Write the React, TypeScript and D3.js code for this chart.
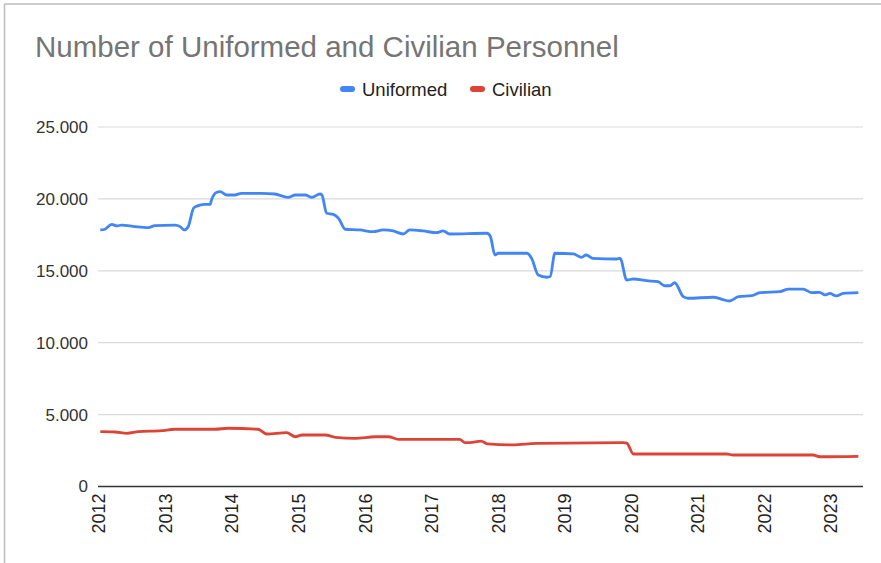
import React from "react";
import * as d3 from "d3";

const uniformedYears = [2012.02, 2012.09, 2012.19, 2012.27, 2012.34, 2012.54, 2012.74, 2012.84, 2013.14, 2013.22, 2013.28, 2013.34, 2013.42, 2013.47, 2013.59, 2013.67, 2013.69, 2013.77, 2013.82, 2013.92, 2014.04, 2014.14, 2014.44, 2014.64, 2014.84, 2014.95, 2015.1, 2015.2, 2015.32, 2015.35, 2015.42, 2015.52, 2015.6, 2015.7, 2015.92, 2016.12, 2016.27, 2016.42, 2016.57, 2016.67, 2016.87, 2017.07, 2017.17, 2017.27, 2017.83, 2017.88, 2017.95, 2018.0, 2018.43, 2018.5, 2018.6, 2018.73, 2018.78, 2018.85, 2019.13, 2019.25, 2019.32, 2019.42, 2019.78, 2019.83, 2019.93, 2020.03, 2020.23, 2020.4, 2020.5, 2020.58, 2020.65, 2020.78, 2020.85, 2021.23, 2021.36, 2021.47, 2021.61, 2021.81, 2021.93, 2022.23, 2022.36, 2022.58, 2022.71, 2022.83, 2022.91, 2022.98, 2023.08, 2023.18, 2023.41];
const uniformedValues = [17840, 17890, 18230, 18120, 18180, 18070, 18000, 18140, 18180, 18070, 17840, 18070, 19350, 19500, 19620, 19620, 19920, 20460, 20500, 20270, 20270, 20390, 20390, 20340, 20110, 20270, 20270, 20110, 20340, 20270, 19000, 18930, 18650, 17890, 17840, 17720, 17840, 17770, 17560, 17840, 17770, 17650, 17770, 17560, 17610, 17400, 16100, 16220, 16220, 15870, 14710, 14550, 14600, 16220, 16170, 15940, 16100, 15870, 15820, 15870, 14360, 14430, 14310, 14240, 13960, 13960, 14170, 13200, 13090, 13160, 13020, 12900, 13200, 13270, 13480, 13550, 13730, 13730, 13480, 13500, 13320, 13430, 13250, 13430, 13480];

const civilianYears = [2012.02, 2012.24, 2012.42, 2012.59, 2012.94, 2013.14, 2013.74, 2013.94, 2014.39, 2014.52, 2014.82, 2014.95, 2015.05, 2015.4, 2015.55, 2015.85, 2016.15, 2016.35, 2016.5, 2017.42, 2017.5, 2017.57, 2017.74, 2017.84, 2018.22, 2018.57, 2019.88, 2019.93, 2020.03, 2021.43, 2021.53, 2022.73, 2022.83, 2023.41];
const civilianValues = [3810, 3790, 3700, 3810, 3880, 3980, 3980, 4050, 3980, 3650, 3740, 3460, 3580, 3580, 3420, 3350, 3460, 3460, 3280, 3280, 3050, 3050, 3160, 2960, 2890, 3000, 3050, 3020, 2260, 2260, 2190, 2190, 2070, 2100];

const yTicks = [0, 5000, 10000, 15000, 20000, 25000];
const xTicks = [2012, 2013, 2014, 2015, 2016, 2017, 2018, 2019, 2020, 2021, 2022, 2023];
const seriesNames = ["Uniformed", "Civilian"];
const seriesColors = ["#4285F4", "#DB4437"];
const title = "Number of Uniformed and Civilian Personnel";

const W = 881;
const H = 563;
const plotLeft = 98;
const plotRight = 863;
const plotTop = 127;
const plotBottom = 486.5;

export default function App() {
  const x = d3.scaleLinear().domain([2012, 2023]).range([99, 99 + 66.55 * 11]);
  const y = d3.scaleLinear().domain([0, 25000]).range([plotBottom, plotTop]);
  const fmt = (v: number) => (v === 0 ? "0" : d3.format(",")(v).replace(/,/g, "."));
  const line = d3
    .line<[number, number]>()
    .x((d) => x(d[0]))
    .y((d) => y(d[1]))
    .curve(d3.curveMonotoneX);
  const uData = uniformedYears.map((t, i) => [t, uniformedValues[i]] as [number, number]);
  const cData = civilianYears.map((t, i) => [t, civilianValues[i]] as [number, number]);
  const font = "'Liberation Sans', Arial, sans-serif";

  return (
    <svg
      width={W}
      height={H}
      style={{ position: "absolute", left: 0, top: 0, background: "#fff" }}
      fontFamily={font}
    >
      <rect x={0} y={0} width={W} height={H} fill="#fff" />
      <line x1={4.5} y1={4} x2={W} y2={4} stroke="#bdbdbd" strokeWidth={1.5} />
      <line x1={4.5} y1={4} x2={4.5} y2={H} stroke="#bdbdbd" strokeWidth={1.5} />
      <text x={35} y={57} fontSize={29.5} fill="#757575">
        {title}
      </text>
      {/* legend */}
      <g>
        <rect x={340} y={86} width={15} height={6} rx={3} fill={seriesColors[0]} />
        <text x={362} y={95.5} fontSize={18.5} fill="#222">
          {seriesNames[0]}
        </text>
        <rect x={470} y={86} width={15} height={6} rx={3} fill={seriesColors[1]} />
        <text x={492} y={95.5} fontSize={18.5} fill="#222">
          {seriesNames[1]}
        </text>
      </g>
      {/* gridlines */}
      {yTicks.map((t) => (
        <g key={t}>
          <line
            x1={plotLeft}
            x2={plotRight}
            y1={y(t)}
            y2={y(t)}
            stroke={t === 0 ? "#333" : "#d9d9d9"}
            strokeWidth={t === 0 ? 1.5 : 1.2}
          />
          <text x={88} y={y(t)} dy="0.35em" textAnchor="end" fontSize={17} fill="#333">
            {fmt(t)}
          </text>
        </g>
      ))}
      {xTicks.map((t) => (
        <text
          key={t}
          transform={`translate(${x(t)},${plotBottom + 7}) rotate(-90)`}
          dy="0.35em"
          textAnchor="end"
          fontSize={18}
          fill="#222"
        >
          {t}
        </text>
      ))}
      <path d={line(uData) || ""} fill="none" stroke={seriesColors[0]} strokeWidth={2.8} strokeLinejoin="round" />
      <path d={line(cData) || ""} fill="none" stroke={seriesColors[1]} strokeWidth={2.8} strokeLinejoin="round" />
    </svg>
  );
}
